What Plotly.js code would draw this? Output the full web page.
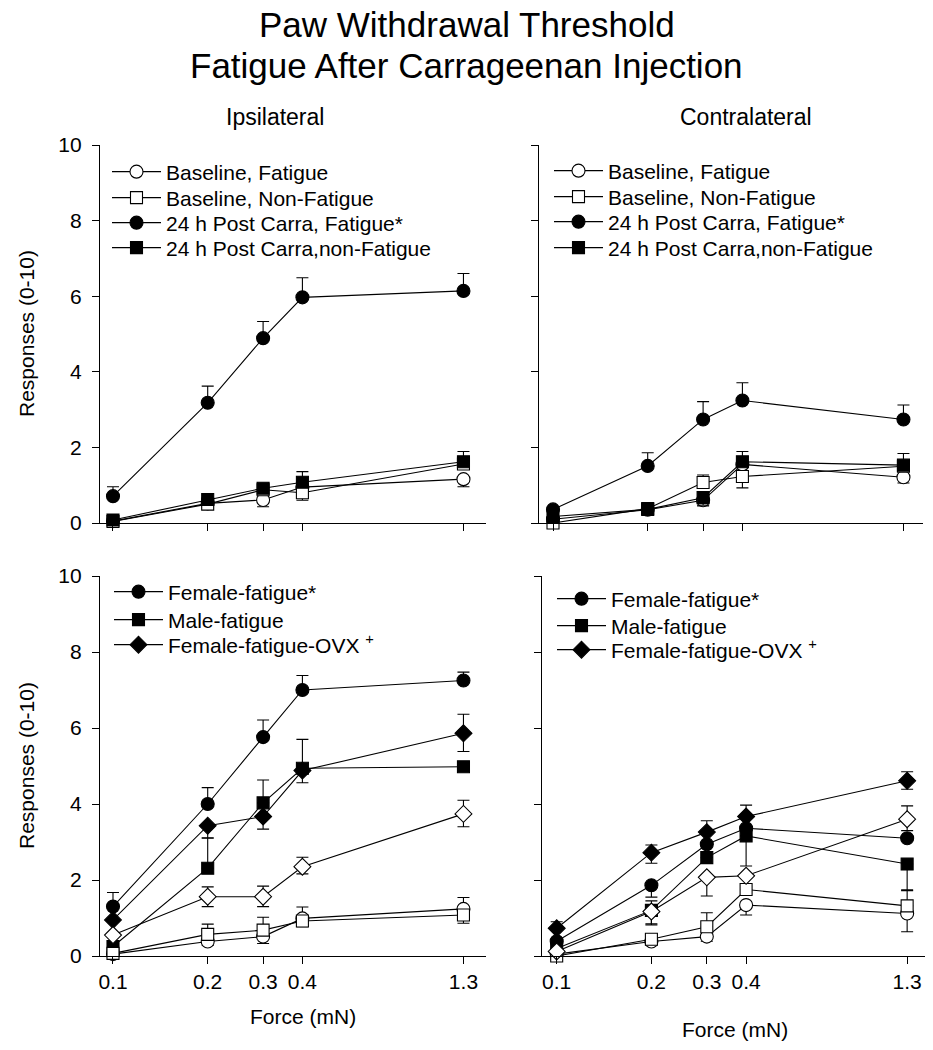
<!DOCTYPE html>
<html>
<head>
<meta charset="utf-8">
<script src="https://cdn.plot.ly/plotly-3.0.1.min.js"></script>
<style>
  html, body { margin: 0; padding: 0; background: #ffffff; }
  #chart { width: 933px; height: 1050px; }
</style>
</head>
<body>
<div id="chart"></div>
<script>
// ---------------- data ----------------
const forceMN = [0.1, 0.2, 0.3, 0.4, 1.3];
const forceTickText = ['0.1', '0.2', '0.3', '0.4', '1.3'];
const responseTicks = [0, 2, 4, 6, 8, 10];

const topLegendNames = ['Baseline, Fatigue', 'Baseline, Non-Fatigue',
  '24 h Post Carra, Fatigue*', '24 h Post Carra,non-Fatigue'];
const bottomLegendNames = ['Female-fatigue*', 'Male-fatigue',
  'Female-fatigue-OVX <sup>+</sup>'];

// Ipsilateral, top panel
const ipsiBaseFat        = [0.05, 0.52, 0.61, 0.95, 1.16];
const ipsiBaseFatUp      = [0, 0, 0, 0, 0];
const ipsiBaseFatDown    = [0, 0.10, 0.18, 0, 0.20];
const ipsiBaseNonFat     = [0.04, 0.50, 0.88, 0.80, 1.56];
const ipsiBaseNonFatUp   = [0, 0, 0, 0, 0];
const ipsiBaseNonFatDown = [0, 0.12, 0, 0.20, 0];
const ipsiCarraFat       = [0.71, 3.18, 4.89, 5.97, 6.14];
const ipsiCarraFatUp     = [0.25, 0.44, 0.44, 0.52, 0.46];
const ipsiCarraFatDown   = [0, 0, 0, 0, 0];
const ipsiCarraNonFat    = [0.08, 0.62, 0.92, 1.08, 1.62];
const ipsiCarraNonFatUp  = [0, 0, 0, 0.28, 0.27];
const ipsiCarraNonFatDown= [0, 0, 0, 0, 0];

// Contralateral, top panel
const contraBaseFat        = [0.10, 0.35, 0.60, 1.55, 1.21];
const contraBaseFatUp      = [0, 0, 0, 0, 0];
const contraBaseFatDown    = [0, 0, 0.15, 0, 0.15];
const contraBaseNonFat     = [0.00, 0.38, 1.07, 1.23, 1.50];
const contraBaseNonFatUp   = [0, 0, 0.20, 0, 0];
const contraBaseNonFatDown = [0, 0, 0, 0.30, 0];
const contraCarraFat       = [0.36, 1.51, 2.74, 3.24, 2.74];
const contraCarraFatUp     = [0, 0.35, 0.47, 0.47, 0.38];
const contraCarraFatDown   = [0, 0, 0, 0, 0];
const contraCarraNonFat    = [0.17, 0.36, 0.67, 1.62, 1.53];
const contraCarraNonFatUp  = [0, 0, 0, 0.27, 0.31];
const contraCarraNonFatDown= [0, 0, 0.20, 0, 0];

// Ipsilateral, bottom panel
const ipsiFemaleFat      = [1.30, 4.00, 5.76, 7.00, 7.25];
const ipsiFemaleFatUp    = [0.37, 0.43, 0.45, 0.38, 0.22];
const ipsiFemaleFatDown  = [0, 0, 0, 0, 0];
const ipsiMaleFat        = [0.25, 2.31, 4.03, 4.94, 4.98];
const ipsiMaleFatUp      = [0, 0.80, 0.60, 0.76, 0];
const ipsiMaleFatDown    = [0, 0, 0, 0, 0];
const ipsiOvxFat         = [0.95, 3.43, 3.67, 4.88, 5.86];
const ipsiOvxFatUp       = [0, 0, 0, 0, 0.50];
const ipsiOvxFatDown     = [0, 0.33, 0.33, 0.32, 0.48];
const ipsiFemaleOpen     = [0.05, 0.38, 0.51, 0.99, 1.24];
const ipsiFemaleOpenUp   = [0, 0, 0, 0.30, 0.30];
const ipsiFemaleOpenDown = [0, 0.10, 0.18, 0, 0];
const ipsiMaleOpen       = [0.07, 0.57, 0.68, 0.92, 1.08];
const ipsiMaleOpenUp     = [0, 0.27, 0.34, 0, 0];
const ipsiMaleOpenDown   = [0, 0, 0, 0.15, 0.22];
const ipsiOvxOpen        = [0.55, 1.56, 1.56, 2.35, 3.74];
const ipsiOvxOpenUp      = [0, 0.26, 0.28, 0.25, 0.36];
const ipsiOvxOpenDown    = [0, 0.26, 0.26, 0.19, 0.34];

// Contralateral, bottom panel
const contraFemaleFat      = [0.39, 1.86, 2.94, 3.36, 3.10];
const contraFemaleFatUp    = [0, 0, 0, 0, 0];
const contraFemaleFatDown  = [0, 0.31, 0, 0, 0];
const contraMaleFat        = [0.20, 1.20, 2.59, 3.16, 2.42];
const contraMaleFatUp      = [0, 0, 0, 0, 0];
const contraMaleFatDown    = [0, 0.35, 0, 0.79, 0.70];
const contraOvxFat         = [0.73, 2.72, 3.26, 3.67, 4.61];
const contraOvxFatUp       = [0.17, 0.20, 0.30, 0.30, 0.24];
const contraOvxFatDown     = [0, 0.28, 0, 0, 0.22];
const contraFemaleOpen     = [0.05, 0.38, 0.51, 1.34, 1.12];
const contraFemaleOpenUp   = [0, 0, 0, 0, 0];
const contraFemaleOpenDown = [0, 0.10, 0.12, 0.26, 0.48];
const contraMaleOpen       = [0.00, 0.44, 0.77, 1.75, 1.32];
const contraMaleOpenUp     = [0, 0, 0.37, 0, 0.42];
const contraMaleOpenDown   = [0, 0, 0, 0, 0];
const contraOvxOpen        = [0.12, 1.17, 2.07, 2.11, 3.60];
const contraOvxOpenUp      = [0, 0.28, 0, 0, 0.35];
const contraOvxOpenDown    = [0, 0.35, 0.49, 0, 0.30];

// ---------------- styling ----------------
const FONT = 'Liberation Sans, Arial, Helvetica, sans-serif';
const W = 933, H = 1050;

function series(name, y, up, down, symbol, filled, size, axisNum, legendId) {
  const sfx = axisNum === 1 ? '' : String(axisNum);
  return {
    type: 'scatter', mode: 'lines+markers',
    x: forceMN, y: y, name: name,
    xaxis: 'x' + sfx, yaxis: 'y' + sfx,
    showlegend: !!legendId, legend: legendId || 'legend',
    cliponaxis: false,
    line: { color: '#000000', width: 1.1 },
    marker: { symbol: symbol, size: size, color: filled ? '#000000' : '#ffffff',
              line: { color: '#000000', width: 1.1 } },
    error_y: { type: 'data', symmetric: false, array: up, arrayminus: down,
               color: '#000000', thickness: 1.1, width: 6 },
    hoverinfo: 'x+y+name'
  };
}

const data = [
  // top-left
  series(topLegendNames[0], ipsiBaseFat, ipsiBaseFatUp, ipsiBaseFatDown, 'circle', false, 13, 1, 'legend'),
  series(topLegendNames[1], ipsiBaseNonFat, ipsiBaseNonFatUp, ipsiBaseNonFatDown, 'square', false, 12, 1, 'legend2'),
  series(topLegendNames[2], ipsiCarraFat, ipsiCarraFatUp, ipsiCarraFatDown, 'circle', true, 13, 1, 'legend3'),
  series(topLegendNames[3], ipsiCarraNonFat, ipsiCarraNonFatUp, ipsiCarraNonFatDown, 'square', true, 12, 1, 'legend4'),
  // top-right
  series(topLegendNames[0], contraBaseFat, contraBaseFatUp, contraBaseFatDown, 'circle', false, 13, 2, 'legend5'),
  series(topLegendNames[1], contraBaseNonFat, contraBaseNonFatUp, contraBaseNonFatDown, 'square', false, 12, 2, 'legend6'),
  series(topLegendNames[2], contraCarraFat, contraCarraFatUp, contraCarraFatDown, 'circle', true, 13, 2, 'legend7'),
  series(topLegendNames[3], contraCarraNonFat, contraCarraNonFatUp, contraCarraNonFatDown, 'square', true, 12, 2, 'legend8'),
  // bottom-left
  series(bottomLegendNames[0], ipsiFemaleFat, ipsiFemaleFatUp, ipsiFemaleFatDown, 'circle', true, 13, 3, 'legend9'),
  series(bottomLegendNames[1], ipsiMaleFat, ipsiMaleFatUp, ipsiMaleFatDown, 'square', true, 12, 3, 'legend10'),
  series(bottomLegendNames[2], ipsiOvxFat, ipsiOvxFatUp, ipsiOvxFatDown, 'diamond', true, 13, 3, 'legend11'),
  series('Female-baseline', ipsiFemaleOpen, ipsiFemaleOpenUp, ipsiFemaleOpenDown, 'circle', false, 13, 3, null),
  series('Male-baseline', ipsiMaleOpen, ipsiMaleOpenUp, ipsiMaleOpenDown, 'square', false, 12, 3, null),
  series('Female-OVX-baseline', ipsiOvxOpen, ipsiOvxOpenUp, ipsiOvxOpenDown, 'diamond', false, 13, 3, null),
  // bottom-right
  series(bottomLegendNames[0], contraFemaleFat, contraFemaleFatUp, contraFemaleFatDown, 'circle', true, 13, 4, 'legend12'),
  series(bottomLegendNames[1], contraMaleFat, contraMaleFatUp, contraMaleFatDown, 'square', true, 12, 4, 'legend13'),
  series(bottomLegendNames[2], contraOvxFat, contraOvxFatUp, contraOvxFatDown, 'diamond', true, 13, 4, 'legend14'),
  series('Female-baseline', contraFemaleOpen, contraFemaleOpenUp, contraFemaleOpenDown, 'circle', false, 13, 4, null),
  series('Male-baseline', contraMaleOpen, contraMaleOpenUp, contraMaleOpenDown, 'square', false, 12, 4, null),
  series('Female-OVX-baseline', contraOvxOpen, contraOvxOpenUp, contraOvxOpenDown, 'diamond', false, 13, 4, null)
];

function xAx(x0, x1, range, anchor, labels) {
  return {
    type: 'log', domain: [x0 / W, x1 / W], range: range, anchor: anchor,
    tickmode: 'array', tickvals: forceMN, ticktext: forceTickText,
    showticklabels: labels, ticks: 'outside', ticklen: 7, tickwidth: 1.1, tickcolor: '#000',
    showline: true, linecolor: '#000', linewidth: 1.2, showgrid: false, zeroline: false,
    tickfont: { family: FONT, size: 21, color: '#000' }, fixedrange: true
  };
}
function yAx(top, bottom, anchor, labels) {
  return {
    type: 'linear', domain: [1 - bottom / H, 1 - top / H], range: [0, 10], anchor: anchor,
    tickmode: 'array', tickvals: responseTicks,
    showticklabels: labels, ticks: 'outside', ticklen: 7, tickwidth: 1.1, tickcolor: '#000',
    ticklabelstandoff: 6,
    showline: true, linecolor: '#000', linewidth: 1.2, showgrid: false, zeroline: false,
    tickfont: { family: FONT, size: 21, color: '#000' }, fixedrange: true
  };
}

function legendAt(lineStartX, rowY) {
  return {
    x: (lineStartX - 1) / W, xanchor: 'left', y: 1 - rowY / H, yanchor: 'middle',
    bgcolor: 'rgba(0,0,0,0)', borderwidth: 0, itemwidth: 49,
    font: { family: FONT, size: 21, color: '#000' },
    itemclick: false, itemdoubleclick: false
  };
}

const layout = {
  width: W, height: H,
  margin: { l: 0, r: 0, t: 0, b: 0 },
  paper_bgcolor: '#ffffff', plot_bgcolor: '#ffffff',
  font: { family: FONT, color: '#000000' },
  xaxis:  xAx(100, 486, [-1.0413, 0.1856], 'y', false),
  yaxis:  yAx(145, 523, 'x', true),
  xaxis2: xAx(539, 923, [-1.0445, 0.1761], 'y2', false),
  yaxis2: yAx(145, 523, 'x2', false),
  xaxis3: xAx(100, 486, [-1.0413, 0.1856], 'y3', true),
  yaxis3: yAx(576, 956, 'x3', true),
  xaxis4: xAx(542, 925, [-1.0467, 0.1707], 'y4', true),
  yaxis4: yAx(576, 956, 'x4', false),
  legend:   legendAt(108, 172),
  legend2:  legendAt(108, 198),
  legend3:  legendAt(108, 223),
  legend4:  legendAt(108, 248),
  legend5:  legendAt(550, 171),
  legend6:  legendAt(550, 197),
  legend7:  legendAt(550, 222),
  legend8:  legendAt(550, 248),
  legend9:  legendAt(110, 592),
  legend10: legendAt(110, 620),
  legend11: legendAt(110, 645),
  legend12: legendAt(553, 599),
  legend13: legendAt(553, 626),
  legend14: legendAt(553, 650),
  annotations: [
    { text: 'Paw Withdrawal Threshold', x: 466.5 / W, y: 1 - 24 / H, xref: 'paper', yref: 'paper',
      xanchor: 'center', yanchor: 'middle', showarrow: false, font: { family: FONT, size: 35, color: '#000' } },
    { text: 'Fatigue After Carrageenan Injection', x: 466.5 / W, y: 1 - 66 / H, xref: 'paper', yref: 'paper',
      xanchor: 'center', yanchor: 'middle', showarrow: false, font: { family: FONT, size: 35, color: '#000' } },
    { text: 'Ipsilateral', x: 275 / W, y: 1 - 117 / H, xref: 'paper', yref: 'paper',
      xanchor: 'center', yanchor: 'middle', showarrow: false, font: { family: FONT, size: 23, color: '#000' } },
    { text: 'Contralateral', x: 746 / W, y: 1 - 117 / H, xref: 'paper', yref: 'paper',
      xanchor: 'center', yanchor: 'middle', showarrow: false, font: { family: FONT, size: 23, color: '#000' } },
    { text: 'Responses (0-10)', x: 26 / W, y: 1 - 334 / H, xref: 'paper', yref: 'paper', textangle: -90,
      xanchor: 'center', yanchor: 'middle', showarrow: false, font: { family: FONT, size: 21, color: '#000' } },
    { text: 'Responses (0-10)', x: 26 / W, y: 1 - 766 / H, xref: 'paper', yref: 'paper', textangle: -90,
      xanchor: 'center', yanchor: 'middle', showarrow: false, font: { family: FONT, size: 21, color: '#000' } },
    { text: 'Force (mN)', x: 303 / W, y: 1 - 1016 / H, xref: 'paper', yref: 'paper',
      xanchor: 'center', yanchor: 'middle', showarrow: false, font: { family: FONT, size: 21, color: '#000' } },
    { text: 'Force (mN)', x: 735 / W, y: 1 - 1029 / H, xref: 'paper', yref: 'paper',
      xanchor: 'center', yanchor: 'middle', showarrow: false, font: { family: FONT, size: 21, color: '#000' } }
  ]
};

Plotly.newPlot('chart', data, layout, { displayModeBar: false, responsive: false, staticPlot: false });
</script>
</body>
</html>
